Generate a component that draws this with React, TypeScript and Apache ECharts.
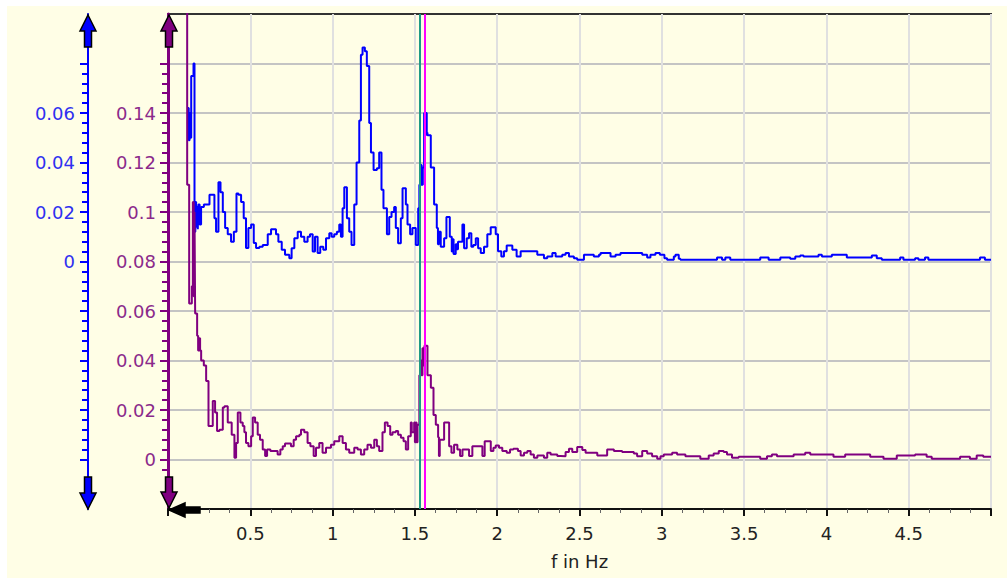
import React, { useEffect, useRef } from 'react';
import * as echarts from 'echarts';

// Blue spectrum (left-most axis): step values, each holds from its frequency to the next one
const blueHz = [
  0.120, 0.126, 0.131, 0.136, 0.141, 0.155, 0.161, 0.166, 0.171, 0.176, 0.181, 0.185, 0.192, 0.201, 0.218,
  0.252, 0.282, 0.292, 0.3065, 0.319, 0.333, 0.347, 0.363, 0.383, 0.400, 0.416, 0.428, 0.444, 0.460, 0.474,
  0.4885, 0.505, 0.521, 0.535, 0.555, 0.5755, 0.606, 0.626, 0.656, 0.6705, 0.691, 0.711, 0.737, 0.751, 0.7675,
  0.788, 0.808, 0.828, 0.848, 0.8626, 0.879, 0.893, 0.909, 0.925, 0.9435, 0.960, 0.980, 0.994, 1.010, 1.026,
  1.0405, 1.0506, 1.0607, 1.071, 1.087, 1.101, 1.115, 1.1315, 1.1456, 1.162, 1.172, 1.182, 1.196, 1.208, 1.2225,
  1.233, 1.249, 1.269, 1.283, 1.297, 1.309, 1.330, 1.344, 1.358, 1.374, 1.384, 1.398, 1.4146, 1.425, 1.445,
  1.455, 1.471, 1.485, 1.5055, 1.520, 1.527, 1.535, 1.541, 1.548, 1.556, 1.562, 1.567, 1.572, 1.5764, 1.5965,
  1.6167, 1.633, 1.640, 1.646, 1.657, 1.6775, 1.6916, 1.712, 1.724, 1.730, 1.735, 1.748, 1.755, 1.762, 1.7887,
  1.7988, 1.815, 1.829, 1.843, 1.855, 1.870, 1.884, 1.900, 1.920, 1.940, 1.9606, 1.991, 2.005, 2.025, 2.041,
  2.0576, 2.092, 2.118, 2.1425, 2.2436, 2.284, 2.304, 2.335, 2.355, 2.395, 2.4155, 2.436, 2.466, 2.486, 2.527,
  2.587, 2.618, 2.628, 2.6885, 2.719, 2.749, 2.881, 2.911, 2.931, 2.9615, 2.988, 3.016, 3.032, 3.073, 3.083,
  3.103, 3.113, 3.3355, 3.366, 3.386, 3.416, 3.598, 3.649, 3.720, 3.780, 3.811, 3.841, 3.861, 3.952, 3.9725,
  4.033, 4.124, 4.276, 4.306, 4.3365, 4.448, 4.468, 4.539, 4.559, 4.599, 4.6195, 4.933, 4.963, 5.0,
];
const blueAmp = [
  0.062, 0.049, 0.060, 0.050, 0.075, 0.080, 0.012, 0.024, 0.014, 0.022, 0.013, 0.023, 0.015, 0.022, 0.023,
  0.027, 0.0175, 0.012, 0.032, 0.028, 0.020, 0.0135, 0.011, 0.008, 0.012, 0.0275, 0.027, 0.024, 0.0175, 0.0055,
  0.0135, 0.015, 0.0075, 0.0055, 0.006, 0.0067, 0.011, 0.013, 0.011, 0.008, 0.0047, 0.0027, 0.0013, 0.0054, 0.0094,
  0.012, 0.010, 0.008, 0.010, 0.011, 0.004, 0.010, 0.0034, 0.006, 0.0047, 0.0094, 0.0114, 0.010, 0.011, 0.012,
  0.015, 0.010, 0.0215, 0.030, 0.0175, 0.012, 0.0067, 0.023, 0.040, 0.057, 0.0835, 0.0865, 0.085, 0.079, 0.056,
  0.044, 0.037, 0.0377, 0.044, 0.029, 0.0215, 0.011, 0.018, 0.020, 0.022, 0.0135, 0.0074, 0.0175, 0.0296, 0.023,
  0.015, 0.011, 0.0135, 0.0067, 0.0215, 0.031, 0.039, 0.031, 0.038, 0.060, 0.051, 0.060, 0.052, 0.051, 0.038,
  0.023, 0.0135, 0.007, 0.012, 0.006, 0.0094, 0.018, 0.010, 0.004, 0.009, 0.003, 0.007, 0.005, 0.008, 0.015,
  0.0054, 0.0094, 0.0114, 0.006, 0.0067, 0.0094, 0.0054, 0.0034, 0.006, 0.011, 0.0138, 0.011, 0.0041, 0.002, 0.0041,
  0.0065, 0.0047, 0.002, 0.0041, 0.0027, 0.0013, 0.002, 0.0034, 0.002, 0.0027, 0.0034, 0.002, 0.0013, 0.0007, 0.0027,
  0.002, 0.0027, 0.0034, 0.002, 0.0027, 0.0034, 0.0027, 0.0016, 0.0027, 0.0034, 0.0027, 0.0013, 0.0007, 0.002, 0.0027,
  0.0011, 0.0007, 0.0016, 0.0007, 0.0016, 0.0007, 0.0016, 0.0007, 0.0016, 0.0011, 0.002, 0.0024, 0.002, 0.0027, 0.002,
  0.0027, 0.0016, 0.0024, 0.0013, 0.0007, 0.0016, 0.0007, 0.0013, 0.0007, 0.0016, 0.0007, 0.0016, 0.0007, 0.0007,
];

// Purple spectrum (inner axis)
const purpleHz = [
  0.105, 0.1165, 0.1286, 0.1448, 0.151, 0.156, 0.161, 0.165, 0.177, 0.183, 0.189, 0.195, 0.2014, 0.2176, 0.2317,
  0.246, 0.272, 0.286, 0.298, 0.3126, 0.333, 0.343, 0.363, 0.387, 0.4036, 0.4137, 0.424, 0.440, 0.454, 0.464,
  0.474, 0.4885, 0.505, 0.515, 0.529, 0.545, 0.559, 0.5755, 0.590, 0.602, 0.622, 0.666, 0.6826, 0.697, 0.711,
  0.747, 0.7635, 0.778, 0.798, 0.808, 0.828, 0.848, 0.865, 0.885, 0.899, 0.919, 0.939, 0.960, 0.990, 1.010,
  1.0405, 1.061, 1.081, 1.101, 1.1315, 1.152, 1.172, 1.192, 1.212, 1.233, 1.253, 1.269, 1.283, 1.303, 1.3175,
  1.334, 1.350, 1.364, 1.384, 1.398, 1.415, 1.431, 1.445, 1.459, 1.475, 1.481, 1.4954, 1.500, 1.505, 1.510,
  1.516, 1.527, 1.533, 1.540, 1.546, 1.552, 1.558, 1.5764, 1.597, 1.613, 1.627, 1.641, 1.646, 1.651, 1.657,
  1.6775, 1.708, 1.722, 1.738, 1.758, 1.7745, 1.789, 1.829, 1.849, 1.910, 1.924, 1.961, 1.977, 1.991, 2.011,
  2.031, 2.058, 2.078, 2.098, 2.126, 2.1425, 2.163, 2.183, 2.203, 2.223, 2.244, 2.284, 2.304, 2.3245, 2.365,
  2.3852, 2.4155, 2.436, 2.456, 2.486, 2.517, 2.537, 2.608, 2.668, 2.709, 2.759, 2.830, 2.850, 2.881, 2.911,
  2.941, 2.972, 2.992, 3.012, 3.063, 3.093, 3.1435, 3.234, 3.285, 3.315, 3.346, 3.376, 3.396, 3.4265, 3.467,
  3.598, 3.639, 3.669, 3.6995, 3.801, 3.871, 3.902, 4.043, 4.114, 4.266, 4.347, 4.4275, 4.539, 4.609, 4.640,
  4.812, 4.872, 4.913, 4.953, 5.0,
];
const purpleAmp = [
  0.35, 0.111, 0.063, 0.070, 0.104, 0.066, 0.100, 0.059, 0.050, 0.044, 0.049, 0.044, 0.040, 0.038, 0.0317,
  0.0135, 0.0236, 0.019, 0.0115, 0.012, 0.021, 0.0215, 0.015, 0.010, 0.0007, 0.0067, 0.019, 0.015, 0.0135, 0.011,
  0.0067, 0.0054, 0.0094, 0.017, 0.015, 0.010, 0.008, 0.004, 0.0014, 0.004, 0.0034, 0.002, 0.004, 0.0054, 0.0065,
  0.0054, 0.008, 0.0094, 0.010, 0.012, 0.011, 0.0067, 0.0054, 0.0014, 0.0047, 0.0067, 0.0027, 0.0047, 0.006, 0.0074,
  0.0094, 0.0067, 0.004, 0.0027, 0.0047, 0.004, 0.002, 0.004, 0.006, 0.0047, 0.008, 0.0054, 0.0034, 0.011, 0.015,
  0.0135, 0.010, 0.011, 0.0115, 0.010, 0.0088, 0.0074, 0.004, 0.0094, 0.015, 0.011, 0.015, 0.007, 0.015, 0.007,
  0.014, 0.034, 0.040, 0.034, 0.045, 0.038, 0.046, 0.034, 0.029, 0.018, 0.014, 0.009, 0.0014, 0.008, 0.008,
  0.015, 0.0054, 0.0027, 0.006, 0.004, 0.0014, 0.004, 0.0014, 0.0054, 0.0014, 0.0074, 0.0034, 0.0047, 0.0057, 0.0047,
  0.0034, 0.0027, 0.004, 0.0043, 0.0034, 0.0016, 0.0027, 0.0034, 0.002, 0.0007, 0.0016, 0.0007, 0.0027, 0.002, 0.0014,
  0.0013, 0.003, 0.0043, 0.003, 0.0051, 0.0038, 0.0027, 0.0016, 0.004, 0.0034, 0.003, 0.0024, 0.0013, 0.0034, 0.0024,
  0.0013, 0.0003, 0.0013, 0.002, 0.0027, 0.002, 0.0013, 0.0003, 0.0016, 0.0024, 0.0034, 0.003, 0.002, 0.0007, 0.0011,
  0.0003, 0.0013, 0.002, 0.0013, 0.002, 0.0027, 0.002, 0.0011, 0.002, 0.0011, 0.0003, 0.0016, 0.002, 0.0011, 0.0003,
  0.0011, 0.0003, 0.0016, 0.0011, 0.0011,
];

// Cursor positions (Hz)
const cursorHz = [1.527, 1.561];

// Axis ranges and labelled ticks
const xRange = [0, 5];
const purpleRange = [-0.02, 0.18];
const blueRange = [-0.1, 0.1];
const purpleMajor = [0, 0.02, 0.04, 0.06, 0.08, 0.1, 0.12, 0.14, 0.16];
const purpleLabels = [0, 0.02, 0.04, 0.06, 0.08, 0.1, 0.12, 0.14];
const blueMajor = [-0.08, -0.06, -0.04, -0.02, 0, 0.02, 0.04, 0.06, 0.08];
const blueLabels = [0, 0.02, 0.04, 0.06];

const BLUE = '#0000ff';
const PURPLE = '#800080';
const FONT = 'DejaVu Sans';

function minorTicks(from: number, to: number, step: number, majors: number[]) {
  const out: number[] = [];
  const n = Math.round((to - from) / step);
  for (let i = 0; i <= n; i++) {
    const v = Math.round((from + i * step) * 10000) / 10000;
    if (!majors.some((m) => Math.abs(m - v) < 1e-6)) out.push(v);
  }
  return out;
}

function fmt(v: number) {
  return String(Math.round(v * 1000) / 1000);
}

function upArrow(cx: number, tip: number, base: number, end: number, hh: number, sh: number) {
  return [[cx, tip], [cx + hh, base], [cx + sh, base], [cx + sh, end], [cx - sh, end], [cx - sh, base], [cx - hh, base]];
}
function leftArrow(cy: number, tip: number, base: number, end: number, hh: number, sh: number) {
  return [[tip, cy], [base, cy - hh], [base, cy - sh], [end, cy - sh], [end, cy + sh], [base, cy + sh], [base, cy + hh]];
}

export default function App() {
  const ref = useRef<HTMLDivElement>(null);
  useEffect(() => {
    const chart = echarts.init(ref.current!, null, { renderer: 'svg' });
    const blueData = blueHz.map((f, i) => [f, blueAmp[i]]);
    const purpleData = purpleHz.map((f, i) => [f, purpleAmp[i]]);
    const gridLeft = 161;
    const blueX = 81;
    const arrowStroke = { stroke: '#000', lineWidth: 1.5 };

    chart.setOption({
      animation: false,
      backgroundColor: '#fffee6',
      textStyle: { fontFamily: FONT },
      grid: {
        left: gridLeft, top: 8, right: 16, bottom: 69,
        show: true, borderColor: '#333', borderWidth: 2, backgroundColor: 'transparent',
      },
      xAxis: {
        type: 'value', min: xRange[0], max: xRange[1], interval: 0.5,
        name: 'f in Hz', nameLocation: 'middle', nameGap: 43,
        nameTextStyle: { color: '#222', fontSize: 18, fontFamily: FONT },
        axisLine: { show: true, onZero: false, lineStyle: { color: '#111', width: 2 } },
        axisTick: { show: true, length: 7, lineStyle: { color: '#111', width: 2 } },
        minorTick: { show: true, splitNumber: 4, length: 4, lineStyle: { color: '#666', width: 1 } },
        axisLabel: {
          color: '#222', fontSize: 18, fontFamily: FONT, margin: 15,
          formatter: (v: number) => (v > 0.01 && v < 4.99 ? fmt(v) : ''),
        },
        splitLine: { show: true, lineStyle: { color: '#e0e0e0', width: 2 } },
      },
      yAxis: [
        {
          type: 'value', min: purpleRange[0], max: purpleRange[1], interval: 0.02,
          position: 'left', offset: 0,
          axisLine: { show: true, onZero: false, lineStyle: { color: PURPLE, width: 3 } },
          axisTick: { show: true, length: 8, customValues: purpleMajor, lineStyle: { color: PURPLE, width: 2 } },
          axisLabel: {
            color: '#8b2a8b', fontSize: 18, fontFamily: FONT, margin: 12, customValues: purpleLabels,
            formatter: (v: number) => (v > -0.001 && v < 0.141 ? fmt(v) : ''),
          },
          splitLine: { show: true, lineStyle: { color: '#c4c4c4', width: 2 } },
        },
        {
          type: 'value', min: purpleRange[0], max: purpleRange[1], interval: 0.02,
          position: 'left', offset: 0,
          axisLine: { show: false },
          axisTick: { show: true, length: 6, customValues: minorTicks(-0.004, 0.16, 0.004, purpleMajor), lineStyle: { color: PURPLE, width: 2 } },
          axisLabel: { show: false },
          splitLine: { show: false },
        },
        {
          type: 'value', min: blueRange[0], max: blueRange[1], interval: 0.02,
          position: 'left', offset: gridLeft - blueX,
          axisLine: { show: true, onZero: false, lineStyle: { color: BLUE, width: 2 } },
          axisTick: { show: true, length: 8, customValues: blueMajor, lineStyle: { color: BLUE, width: 2 } },
          axisLabel: {
            color: '#3030f0', fontSize: 18, fontFamily: FONT, margin: 13, customValues: blueLabels,
            formatter: (v: number) => (v > -0.001 && v < 0.061 ? fmt(v) : ''),
          },
          splitLine: { show: false },
        },
        {
          type: 'value', min: blueRange[0], max: blueRange[1], interval: 0.02,
          position: 'left', offset: gridLeft - blueX,
          axisLine: { show: false },
          axisTick: { show: true, length: 6, customValues: minorTicks(-0.08, 0.08, 0.004, blueMajor), lineStyle: { color: BLUE, width: 2 } },
          axisLabel: { show: false },
          splitLine: { show: false },
        },
      ],
      series: [
        {
          type: 'line', name: 'blue', yAxisIndex: 2, data: blueData, step: 'end',
          showSymbol: false, symbol: 'none', clip: true,
          lineStyle: { color: BLUE, width: 2 }, z: 3,
        },
        {
          type: 'line', name: 'purple', yAxisIndex: 0, data: purpleData, step: 'end',
          showSymbol: false, symbol: 'none', clip: true,
          lineStyle: { color: PURPLE, width: 2 }, z: 4,
        },
        {
          type: 'line', name: 'cursors', yAxisIndex: 0, data: [], z: 5,
          markLine: {
            silent: true, symbol: 'none', label: { show: false }, animation: false,
            data: [
              { xAxis: cursorHz[0], lineStyle: { color: '#1f9a88', width: 2, type: 'solid' } },
              { xAxis: cursorHz[1], lineStyle: { color: '#ff00ff', width: 2, type: 'solid' } },
            ],
          },
        },
      ],
      graphic: [
        { type: 'polygon', z: 100, shape: { points: upArrow(blueX, 9, 25, 41, 8, 3.5) }, style: { fill: BLUE, ...arrowStroke } },
        { type: 'polygon', z: 100, shape: { points: upArrow(blueX, 503, 487, 471, 8, 3.5) }, style: { fill: BLUE, ...arrowStroke } },
        { type: 'polygon', z: 100, shape: { points: upArrow(gridLeft + 1, 9, 25, 41, 8, 3.5) }, style: { fill: PURPLE, ...arrowStroke } },
        { type: 'polygon', z: 100, shape: { points: upArrow(gridLeft + 1, 502, 486, 471, 8, 3.5) }, style: { fill: PURPLE, ...arrowStroke } },
        { type: 'polygon', z: 101, shape: { points: leftArrow(504, gridLeft + 1, 178, 193, 7, 3) }, style: { fill: '#000', ...arrowStroke } },
      ],
    });
    return () => chart.dispose();
  }, []);
  return <div ref={ref} style={{ position: 'absolute', left: 7, top: 6, width: 1000, height: 572 }} />;
}
